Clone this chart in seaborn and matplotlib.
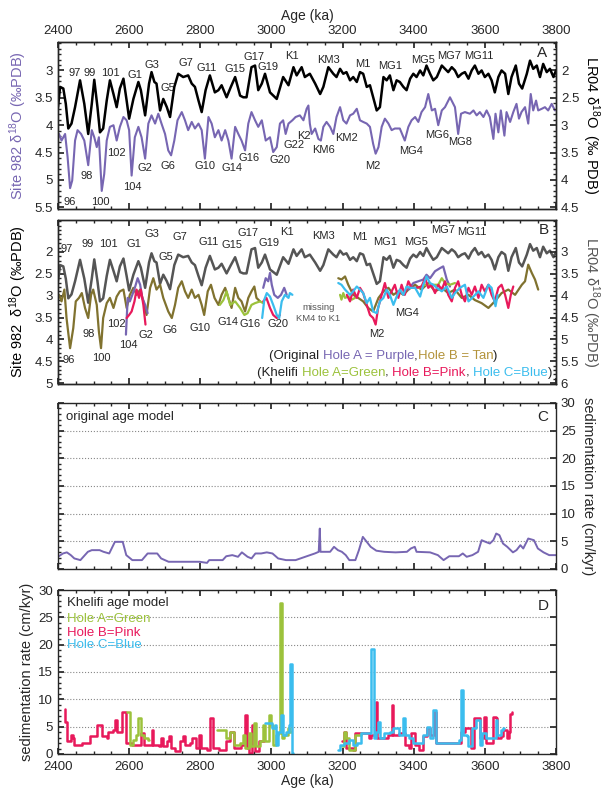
import numpy as np
import pandas as pd
import matplotlib
matplotlib.use("Agg")
import matplotlib.pyplot as plt
from matplotlib.ticker import MultipleLocator, FuncFormatter, FixedLocator
import seaborn as sns

# ---------------- data ----------------
lr04_age = [2400,2406,2415,2422,2429,2438,2448,2462,2474,2485,
            2495,2502,2511,2518,2527,2537,2546,2556,2565,2574,
            2584,2593,2600,2612,2626,2633,2645,2656,2663,2671,
            2677,2687,2696,2706,2715,2727,2738,2752,2766,2776,
            2785,2795,2804,2815,2827,2841,2851,2860,2874,2886,
            2898,2912,2921,2930,2944,2954,2963,2973,2982,2996,
            3015,3033,3048,3062,3071,3085,3094,3108,3123,3137,
            3146,3160,3174,3183,3193,3202,3211,3221,3230,3240,
            3249,3258,3268,3277,3286,3296,3305,3315,3324,3333,
            3343,3352,3361,3371,3380,3390,3399,3408,3418,3427,
            3436,3446,3455,3465,3479,3488,3497,3507,3516,3525,
            3535,3544,3554,3563,3572,3582,3591,3600,3610,3619,
            3628,3638,3647,3657,3666,3675,3687,3696,3705,3718,
            3727,3736,3746,3755,3764,3774,3783,3793,3800]
lr04_val = [2.67,2.30,2.33,2.61,3.06,2.97,2.67,2.18,2.61,3.16,
            2.61,2.17,2.67,3.13,3.06,2.55,2.18,2.43,2.67,2.33,
            2.15,2.55,2.88,2.52,2.21,2.36,2.82,2.24,2.03,2.21,
            2.24,2.73,2.52,2.67,2.85,2.30,2.06,2.12,2.09,2.24,
            2.30,2.55,2.76,2.36,2.09,2.40,2.36,2.27,2.49,2.30,
            2.12,2.46,2.49,2.49,1.94,1.91,2.36,2.24,2.06,2.40,
            2.52,2.12,2.27,1.94,2.09,1.94,2.12,2.06,2.24,2.43,
            2.30,1.94,2.06,2.12,1.97,2.06,2.03,2.18,2.12,2.21,
            2.03,2.06,2.30,2.27,2.49,2.73,2.67,2.12,2.18,2.09,
            2.36,2.18,2.21,2.30,2.36,2.15,2.06,2.12,2.00,2.09,
            1.91,2.06,2.18,2.12,1.91,1.97,2.03,1.94,2.00,2.12,
            2.06,2.03,2.15,2.00,1.91,2.06,2.00,2.12,2.06,2.18,
            2.40,2.12,2.00,2.06,2.43,2.12,1.91,2.24,2.33,2.06,
            1.82,1.97,1.91,2.12,1.88,2.03,1.97,2.12,2.00]

site982_age = [2400,2403,2410,2420,2427,2434,2440,2448,2455,2465,
               2474,2485,2495,2502,2509,2515,2523,2530,2537,2546,
               2556,2565,2574,2584,2593,2600,2607,2616,2626,2635,
               2645,2654,2663,2673,2682,2691,2701,2710,2718,2727,
               2736,2748,2757,2766,2776,2785,2795,2804,2813,2823,
               2832,2841,2851,2860,2870,2879,2888,2898,2907,2916,
               2926,2935,2944,2954,2963,2973,2984,2996,3005,3015,
               3024,3033,3040,3048,3059,3068,3080,3090,3099,3104,
               3108,3113,3123,3132,3139,3146,3155,3165,3174,3183,
               3193,3202,3211,3221,3230,3240,3249,3258,3268,3277,
               3286,3293,3301,3310,3319,3329,3338,3347,3361,3375,
               3385,3394,3404,3413,3422,3432,3441,3451,3460,3469,
               3479,3488,3502,3516,3525,3533,3544,3558,3568,3577,
               3586,3596,3605,3614,3624,3630,3638,3645,3655,3661,
               3671,3680,3689,3696,3703,3713,3722,3729,3736,3744,
               3750,3760,3769,3778,3788,3797]
site982_val = [4.22,4.16,4.28,4.16,4.58,5.15,5.01,4.28,4.09,4.16,
               4.28,4.73,4.09,4.22,4.40,4.22,5.20,4.89,4.28,4.03,
               4.00,4.28,4.03,3.85,3.91,4.09,4.92,4.22,4.03,4.22,
               4.61,3.97,3.82,3.97,3.79,3.97,4.16,4.46,4.55,4.28,
               3.91,3.76,3.91,4.09,3.94,4.06,3.97,4.09,4.61,3.85,
               3.97,4.22,4.09,4.28,4.09,4.28,4.61,4.03,4.16,4.28,
               4.46,3.97,3.76,3.91,4.03,3.91,4.28,4.22,4.49,4.40,
               3.97,3.91,4.16,3.97,3.91,3.85,3.82,3.91,3.70,3.64,
               3.97,4.16,4.06,4.25,4.28,4.03,3.94,4.03,4.16,3.85,
               3.67,3.91,3.97,3.82,3.79,3.70,3.91,3.94,3.97,4.03,
               4.34,4.52,4.40,4.03,3.88,3.97,4.09,4.06,4.06,4.28,
               4.03,3.91,3.85,3.94,3.76,3.67,3.43,3.73,3.70,4.00,
               3.73,3.67,3.49,3.67,4.16,3.79,3.76,3.79,3.73,3.82,
               3.76,3.85,3.73,3.85,4.25,3.79,4.13,3.73,4.19,3.76,
               3.94,3.76,3.61,3.88,3.76,3.67,3.97,3.43,3.73,3.55,
               3.73,3.70,3.67,3.73,3.61,3.73]

# Panel B, original Hole B (tan), two segments
tan1_age = [2400,2403,2410,2418,2424,2434,2443,2450,2459,2467,
            2476,2485,2493,2499,2509,2515,2521,2527,2537,2546,
            2556,2565,2574,2584,2593,2602,2612,2621,2631,2640,
            2649,2659,2668,2677,2687,2696,2710,2720,2729,2738,
            2748,2757,2766,2776,2785,2795,2804,2811,2821,2830,
            2840,2851,2860,2870,2879,2888,2898,2907,2916,2926,
            2935,2944,2952,2958,2968]
tan1_val = [3.05,2.98,3.13,2.86,3.51,4.20,3.74,3.13,3.05,2.94,
            3.28,3.51,2.98,2.86,3.21,3.82,4.20,3.51,3.17,3.05,
            3.28,3.02,2.90,2.86,3.28,2.98,2.82,2.98,2.86,3.13,
            3.44,2.82,2.60,2.86,2.75,3.05,3.36,3.51,3.21,2.82,
            2.67,2.90,3.05,2.86,3.05,2.98,3.21,3.44,2.90,2.75,
            3.05,3.21,2.98,2.82,3.05,3.28,2.82,3.05,3.13,3.36,
            3.05,2.90,2.79,3.05,3.13]
tan2_age = [3188,3197,3207,3216,3230,3244,3258,3272,3286,3301,
            3315,3329,3343,3357,3371,3385,3404,3422,3441,3460,
            3479,3497,3516,3535,3554,3572,3591,3610,3628,3647,
            3666,3685,3704,3713,3722,3732,3741,3750]
tan2_val = [2.60,2.63,2.56,2.75,2.98,3.05,3.13,3.28,3.36,3.05,
            2.90,2.82,2.98,2.90,2.98,2.86,2.75,2.86,2.71,2.90,
            2.82,2.94,2.86,3.05,2.98,3.10,3.17,3.28,3.13,2.94,
            2.86,2.98,2.75,2.67,2.29,2.48,2.63,2.86]

# Panel B, original Hole A (purple)
purB1_age = [2591,2596,2602,2609,2616,2624,2631,2637,2645,2652]
purB1_val = [3.89,3.05,3.13,2.98,2.82,2.60,2.75,3.05,3.21,3.40]
purB2_age = [2977,2984,2991,2996,3001,3008,3018,3027,3036,3043]
purB2_val = [2.82,2.60,2.67,2.48,2.75,2.98,3.05,2.98,2.82,2.98]
purB3_age = [3385,3399,3413,3427,3436,3446,3460,3474,3483,3493,3502]
purB3_val = [2.86,2.71,2.67,2.63,2.52,2.60,2.44,2.37,2.33,2.63,2.79]

# Panel B, Khelifi Hole A (green)
grnB1_age = [2855,2865,2874,2884,2898,2912,2924,2933,2944,2954,2968,2977]
grnB1_val = [3.21,3.10,2.90,3.21,3.13,3.28,3.44,3.40,3.21,3.17,3.13,3.17]
grnB2_age = [3193,3197,3202,3207,3216,3226,3235]
grnB2_val = [2.98,3.09,2.94,3.05,3.02,3.09,3.05]
grnB3_age = [3413,3432,3450,3469,3479,3488,3502,3516]
grnB3_val = [2.82,2.75,2.75,2.75,2.60,2.71,2.75,2.71]

# Panel B, Khelifi Hole B (pink)
pnkB1_age = [2593,2600,2607,2615,2621,2628,2633,2640,2646]
pnkB1_val = [3.51,3.44,3.36,3.13,2.86,3.05,2.86,3.21,3.66]
pnkB2_age = [2977,2986,2996,3005,3015,3024]
pnkB2_val = [3.13,3.05,3.28,3.44,3.51,3.44]
pnkB3_age = [3212,3221,3230,3240,3249,3258,3268,3277,3286,3293,
             3300,3310,3319,3329,3338,3347,3357,3366,3375,3385,
             3394,3408,3422,3432,3441,3450,3460,3469,3479,3488,
             3497,3507,3516,3525,3535,3544,3554,3563,3572,3582,
             3591,3600,3610,3619,3628,3638,3647,3657,3666,3673,
             3680]
pnkB3_val = [2.98,3.13,2.86,3.05,2.82,2.94,3.21,3.44,3.51,3.66,
             3.28,2.98,2.71,3.05,2.90,2.75,3.05,2.75,2.98,2.67,
             2.82,2.82,2.79,2.60,2.82,2.75,2.94,2.75,2.86,2.67,
             2.98,3.13,2.82,2.67,2.98,3.13,2.82,2.98,2.79,3.05,
             2.75,2.90,2.75,2.98,3.13,2.82,2.75,2.98,3.28,2.98,
             2.79]

# Panel B, Khelifi Hole C (blue)
bluB1_age = [2974,2980,2987,2996,3005,3015,3022,3029,3038,3048,3052,3059]
bluB1_val = [3.51,3.09,2.94,3.02,3.21,3.44,3.51,3.13,2.98,3.05,2.94,2.98]
bluB2_age = [3188,3197,3207,3221,3230,3240,3249,3258,3268,3277,
             3286,3296,3305,3315,3324,3333,3343,3352,3361,3371,
             3380,3390,3404,3418,3427,3436,3446,3455,3465,3479,
             3493,3507,3516,3530,3544,3554,3568,3582,3596,3610,
             3619,3630,3636]
bluB2_val = [2.71,2.75,2.86,2.98,2.90,2.79,2.86,2.94,3.17,3.05,
             3.36,3.40,3.13,3.05,2.86,2.98,3.21,3.02,2.86,2.98,
             2.79,2.82,2.82,3.02,2.75,2.56,2.71,2.75,2.82,2.90,
             2.79,3.05,2.94,2.82,2.75,3.13,3.02,2.90,3.05,2.75,
             2.82,3.24,2.98]

# Panel C, sedimentation rate, original age model
sedC_age = [2400,2414,2425,2436,2446,2463,2484,2495,2517,2528,
            2544,2560,2582,2592,2609,2636,2652,2679,2690,2711,
            2755,2798,2819,2825,2863,2873,2890,2906,2917,2933,
            2944,2955,2971,2987,3003,3019,3041,3068,3095,3122,
            3133,3136,3138,3142,3165,3176,3187,3198,3209,3219,
            3236,3246,3257,3268,3279,3295,3317,3349,3381,3392,
            3403,3408,3446,3468,3484,3500,3527,3538,3549,3565,
            3581,3591,3602,3614,3624,3632,3641,3651,3663,3679,
            3689,3700,3708,3722,3738,3749,3765,3781,3800]
sedC_val = [2.2,2.8,3.0,2.5,1.9,1.6,3.1,3.4,3.4,3.1,
            2.8,4.9,4.9,2.5,1.6,1.6,2.8,2.8,1.9,1.3,
            1.3,1.3,1.1,1.6,1.6,2.3,2.5,2.2,3.0,2.2,
            1.9,2.8,2.8,3.0,2.8,1.9,1.6,1.6,2.2,2.8,
            3.1,7.3,3.1,3.1,3.1,4.0,3.4,3.1,2.5,1.6,
            1.6,3.4,5.8,4.9,4.0,3.3,3.1,3.0,3.1,3.7,
            4.0,3.1,3.0,2.5,1.6,2.3,2.3,2.8,2.2,2.5,
            3.1,5.2,4.9,4.6,5.2,6.4,6.1,4.6,4.0,3.0,
            3.4,4.3,3.7,5.5,5.2,3.7,3.0,2.5,2.5]

# Panel D, sedimentation rate, Khelifi age model
pnkD1_age = [2419,2421,2425,2434,2436,2441,2446,2463,2468,2484,
             2490,2506,2511,2522,2525,2538,2542,2555,2560,2565,
             2579,2581,2590,2591,2609,2625,2634,2641,2657,2663,
             2668,2684,2690,2695,2706,2711,2717,2728,2738,2744,
             2752,2757,2771,2776,2787,2796,2803,2819,2828,2836,
             2852,2873,2884,2895,2915,2925,2932,2938,2946,2953,
             2965,2980]
pnkD1_val = [8.3,5.9,2.3,2.3,3.5,2.9,1.7,1.7,2.0,2.0,
             3.2,3.2,5.3,5.3,3.2,2.9,4.1,4.4,6.2,4.1,
             4.1,7.7,7.7,2.0,1.7,1.7,3.8,1.7,1.7,4.4,
             1.7,1.4,2.9,1.4,2.3,3.2,1.1,0.5,0.5,2.3,
             3.2,1.7,2.0,2.9,1.1,3.5,1.1,0.8,6.5,1.1,
             0.8,2.3,4.1,1.1,1.7,7.1,1.1,0.2,5.3,0.5,
             2.3,2.3]
pnkD2_age = [3198,3203,3209,3230,3236,3268,3273,3279,3293,3297,
             3317,3328,3338,3343,3360,3376,3387,3392,3403,3414,
             3425,3436,3446,3457,3462,3522,3532,3543,3560,3570,
             3586,3597,3602,3624,3630,3635,3646,3651,3662,3668,
             3671,3675]
pnkD2_val = [2.3,4.1,1.1,0.8,3.8,3.8,2.9,3.5,9.6,2.9,
             2.9,3.5,9.0,3.5,3.8,1.7,1.1,3.8,1.7,0.8,
             3.2,4.7,3.5,7.7,2.0,2.0,4.1,4.7,1.1,6.5,
             2.9,6.8,2.0,6.8,6.5,2.9,3.2,4.4,2.9,4.1,
             7.4,7.6]
grnD1_age = [2595,2603,2612,2619,2625,2634,2641,2652,2657]
grnD1_val = [7.7,1.7,2.6,3.5,6.5,3.5,2.9,2.6,2.6]
grnD2_age = [2846,2873,2884,2895,2911,2919,2927,2938,2944,2951,
             2957,2968,2976,2982,2992,2998,3005,3014,3019,3025,
             3029,3036,3046,3052,3056]
grnD2_val = [4.4,2.9,4.1,1.7,2.0,3.5,1.1,3.8,1.4,5.6,
             1.4,2.3,5.3,2.3,7.1,5.3,1.7,3.5,3.8,27.6,
             2.9,3.5,4.7,4.1,4.1]
grnD3_age = [3198,3203,3209,3219,3236,3252]
grnD3_val = [1.4,4.0,2.9,0.8,3.5,3.8]
bluD1_age = [2982,3003,3009,3014,3019,3027,3033,3041,3049,3052,3059,3061]
bluD1_val = [5.6,4.7,5.3,1.7,4.1,7.1,3.5,4.1,5.3,16.5,0.2,0.2]
bluD2_age = [3187,3192,3203,3219,3230,3241,3252,3280,3287,3295,
             3300,3306,3317,3333,3343,3360,3370,3376,3387,3397,
             3425,3436,3446,3455,3462,3527,3532,3538,3549,3554,
             3565,3575,3586,3592,3602,3630,3635,3646,3651,3655]
bluD2_val = [0.8,1.7,2.0,2.6,1.7,2.0,3.8,19.2,2.9,4.1,
             5.9,2.9,3.8,4.1,4.7,3.5,6.5,3.5,2.9,2.0,
             3.5,5.0,2.9,8.0,2.0,2.6,11.7,3.5,3.2,1.4,
             4.7,6.2,1.7,3.8,2.9,6.2,3.5,4.4,4.7,4.7]

age_ticks = [2400, 2600, 2800, 3000, 3200, 3400, 3600, 3800]
yA_left_ticks = [3, 3.5, 4, 4.5, 5, 5.5]
yA_right_ticks = [2, 2.5, 3, 3.5, 4, 4.5]
yB_left_ticks = [2, 2.5, 3, 3.5, 4, 4.5, 5]
yB_right_ticks = [3, 3.5, 4, 4.5, 5, 5.5, 6]
sed_ticks = [0, 5, 10, 15, 20, 25, 30]

# ---------------- styling ----------------
sns.set_theme(style="ticks")
plt.rcParams["font.family"] = ["Liberation Sans", "DejaVu Sans"]
plt.rcParams["mathtext.fontset"] = "custom"
plt.rcParams["mathtext.rm"] = "Liberation Sans"
plt.rcParams["mathtext.it"] = "Liberation Sans:italic"
plt.rcParams["mathtext.default"] = "regular"
plt.rcParams["axes.linewidth"] = 1.0

C_PURPLE = "#7766b2"
C_GRAY = "#555555"
C_TAN = "#80722f"
C_TAN_TXT = "#b3933a"
C_GREEN = "#9cc23c"
C_PINK = "#e8195b"
C_BLUE = "#3bbdee"


def segdf(*pairs):
    rows = []
    for k, (a, v) in enumerate(pairs):
        assert len(a) == len(v)
        rows.append(pd.DataFrame({"age": a, "val": v, "seg": k}))
    return pd.concat(rows, ignore_index=True)


def line(ax, df, color, lw, **kw):
    sns.lineplot(data=df, x="age", y="val", units="seg", estimator=None,
                 color=color, lw=lw, ax=ax, legend=False, sort=False, **kw)


gfmt = FuncFormatter(lambda v, p: "%g" % v)

fig = plt.figure(figsize=(6.04, 7.91), dpi=100)
L, W = 0.096, 0.8245
axA = fig.add_axes([L, 0.7358, W, 0.2111])
axB = fig.add_axes([L, 0.5145, W, 0.2073])
axC = fig.add_axes([L, 0.2807, W, 0.2099])
axD = fig.add_axes([L, 0.0468, W, 0.2073])


def style_x(ax):
    ax.set_xlim(2400, 3800)
    ax.set_xticks(age_ticks)
    ax.xaxis.set_minor_locator(MultipleLocator(50))
    ax.tick_params(axis="x", which="both", direction="in", top=True, bottom=True,
                   labelsize=9.5)
    ax.tick_params(axis="x", which="major", length=4)
    ax.tick_params(axis="x", which="minor", length=2)
    ax.set_xlabel("")


def style_y(ax, ticks, minor):
    ax.yaxis.set_major_locator(FixedLocator(ticks))
    ax.yaxis.set_minor_locator(MultipleLocator(minor))
    ax.yaxis.set_major_formatter(gfmt)
    ax.tick_params(axis="y", which="both", direction="in", labelsize=9.5)
    ax.tick_params(axis="y", which="major", length=4)
    ax.tick_params(axis="y", which="minor", length=2)
    ax.set_ylabel("")


LAB_FS = 8

# ---------------- Panel A ----------------
axA2 = axA.twinx()
line(axA, segdf((site982_age, site982_val)), C_PURPLE, 1.5)
line(axA2, segdf((lr04_age, lr04_val)), "black", 1.8)
style_x(axA)
axA.tick_params(axis="x", labeltop=True, labelbottom=False)
axA.xaxis.set_label_position("top")
axA.set_xlabel("Age (ka)", fontsize=10, labelpad=4)
axA.set_ylim(5.53, 2.48)
axA2.set_ylim(4.53, 1.48)
style_y(axA, yA_left_ticks, 0.1)
style_y(axA2, yA_right_ticks, 0.1)
axA.tick_params(axis="y", right=False)
axA2.tick_params(axis="y", left=False, right=True)
axA.set_ylabel("Site 982 δ$^{18}$O (‰PDB)", color=C_PURPLE, fontsize=10.5, labelpad=4)
axA2.set_ylabel("LR04 δ$^{18}$O  (‰ PDB)", color="black", fontsize=10.5,
                rotation=270, labelpad=16)
axA.text(0.982, 0.935, "A", transform=axA.transAxes, ha="right", va="center", fontsize=11)

labA = [("97", 2446, 3.04), ("99", 2490, 3.04), ("101", 2546, 3.04), ("G1", 2617, 3.08),
        ("G3", 2663, 2.90), ("G5", 2708, 3.32), ("G7", 2760, 2.87), ("G11", 2818, 2.95),
        ("G15", 2898, 2.97), ("G17", 2951, 2.76), ("G19", 2991, 2.94), ("K1", 3059, 2.73),
        ("KM3", 3160, 2.80), ("M1", 3258, 2.88), ("MG1", 3333, 2.91), ("MG5", 3427, 2.81),
        ("MG7", 3500, 2.73), ("MG11", 3584, 2.73),
        ("96", 2434, 5.40), ("98", 2482, 4.93), ("100", 2518, 5.40), ("102", 2565, 4.50),
        ("104", 2609, 5.13), ("G2", 2645, 4.78), ("G6", 2708, 4.75), ("G10", 2813, 4.75),
        ("G14", 2888, 4.79), ("G16", 2938, 4.60), ("G20", 3024, 4.63), ("G22", 3064, 4.37),
        ("K2", 3092, 4.19), ("KM6", 3146, 4.46), ("KM2", 3212, 4.23), ("M2", 3285, 4.75),
        ("MG4", 3392, 4.48), ("MG6", 3465, 4.17), ("MG8", 3530, 4.30)]
for s, x, y in labA:
    axA.text(x, y, s, ha="center", va="center", fontsize=LAB_FS)

# ---------------- Panel B ----------------
axB2 = axB.twinx()
line(axB, segdf((lr04_age, lr04_val)), C_GRAY, 1.8)
line(axB, segdf((tan1_age, tan1_val), (tan2_age, tan2_val)), C_TAN, 1.6)
line(axB, segdf((purB1_age, purB1_val), (purB2_age, purB2_val), (purB3_age, purB3_val)),
     C_PURPLE, 1.6)
line(axB, segdf((grnB1_age, grnB1_val), (grnB2_age, grnB2_val), (grnB3_age, grnB3_val)),
     C_GREEN, 1.6)
line(axB, segdf((pnkB1_age, pnkB1_val), (pnkB2_age, pnkB2_val), (pnkB3_age, pnkB3_val)),
     C_PINK, 1.6)
line(axB, segdf((bluB1_age, bluB1_val), (bluB2_age, bluB2_val)), C_BLUE, 1.6)
style_x(axB)
axB.tick_params(axis="x", labelbottom=False)
axB.set_ylim(5.02, 1.27)
axB2.set_ylim(6.02, 2.27)
style_y(axB, yB_left_ticks, 0.1)
style_y(axB2, yB_right_ticks, 0.1)
axB.tick_params(axis="y", right=False)
axB2.tick_params(axis="y", left=False, right=True)
axB.set_ylabel("Site 982  δ$^{18}$O (‰PDB)", color="black", fontsize=10.5, labelpad=4)
axB2.set_ylabel("LR04 δ$^{18}$O (‰PDB)", color=C_GRAY, fontsize=10.5,
                rotation=270, labelpad=16)
axB.text(0.985, 0.94, "B", transform=axB.transAxes, ha="right", va="center", fontsize=11)

labB = [("97", 2424, 1.93), ("99", 2483, 1.82), ("101", 2542, 1.82), ("G1", 2614, 1.82),
        ("G3", 2663, 1.60), ("G5", 2704, 2.12), ("G7", 2743, 1.66), ("G11", 2824, 1.77),
        ("G15", 2890, 1.85), ("G17", 2935, 1.56), ("G19", 2994, 1.79), ("K1", 3045, 1.54),
        ("KM3", 3146, 1.64), ("M1", 3249, 1.66), ("MG1", 3319, 1.77), ("MG5", 3408, 1.78),
        ("MG7", 3483, 1.50), ("MG11", 3563, 1.54),
        ("96", 2429, 4.47), ("98", 2485, 3.88), ("100", 2523, 4.43), ("102", 2565, 3.65),
        ("104", 2598, 4.12), ("G2", 2647, 3.89), ("G6", 2715, 3.78), ("G10", 2799, 3.73),
        ("G14", 2877, 3.59), ("G16", 2940, 3.65), ("G20", 3018, 3.65), ("M2", 3296, 3.88),
        ("MG4", 3380, 3.40)]
for s, x, y in labB:
    axB.text(x, y, s, ha="center", va="center", fontsize=LAB_FS)
axB.text(3132, 3.40, "missing\nKM4 to K1", ha="center", va="center", fontsize=6.8,
         color=C_GRAY, linespacing=1.3)


def rainbow(ax, x, y, pieces, fs=9.5):
    t = ax.text(x, y, pieces[0][0], color=pieces[0][1], fontsize=fs, ha="left", va="bottom")
    for s, c in pieces[1:]:
        t = ax.annotate(s, xy=(1, 0), xycoords=t, color=c, fontsize=fs,
                        ha="left", va="bottom")


rainbow(axB, 2993, 4.52, [("(Original ", "#222222"), ("Hole A = Purple", C_PURPLE),
                          (",", "#222222"), ("Hole B = Tan", C_TAN_TXT), (")", "#222222")])
rainbow(axB, 2960, 4.90, [("(Khelifi ", "#222222"), ("Hole A=Green", C_GREEN),
                          (", ", "#222222"), ("Hole B=Pink", C_PINK), (", ", "#222222"),
                          ("Hole C=Blue", C_BLUE), (")", "#222222")])

# ---------------- Panel C ----------------
line(axC, segdf((sedC_age, sedC_val)), C_PURPLE, 1.4)
style_x(axC)
axC.tick_params(axis="x", labelbottom=False)
axC.set_ylim(0, 30)
style_y(axC, sed_ticks, 1)
axC.tick_params(axis="y", left=True, right=True, labelleft=False, labelright=True)
axC.yaxis.set_label_position("right")
axC.set_ylabel("sedimentation rate (cm/kyr)", fontsize=10.5, rotation=270, labelpad=14)
axC.grid(axis="y", which="major", linestyle=":", color="#888888", lw=0.8)
axC.text(0.016, 0.915, "original age model", transform=axC.transAxes, ha="left",
         va="center", fontsize=9.5)
axC.text(0.984, 0.915, "C", transform=axC.transAxes, ha="right", va="center", fontsize=11)

# ---------------- Panel D ----------------
line(axD, segdf((pnkD1_age, pnkD1_val), (pnkD2_age, pnkD2_val)), C_PINK, 1.8,
     drawstyle="steps-post")
line(axD, segdf((grnD1_age, grnD1_val), (grnD2_age, grnD2_val), (grnD3_age, grnD3_val)),
     C_GREEN, 1.8, drawstyle="steps-post")
line(axD, segdf((bluD1_age, bluD1_val), (bluD2_age, bluD2_val)), C_BLUE, 1.8,
     drawstyle="steps-post")
style_x(axD)
axD.tick_params(axis="x", which="major", pad=5)
axD.set_ylim(0, 30)
style_y(axD, sed_ticks, 1)
axD.tick_params(axis="y", left=True, right=True, labelleft=True, labelright=False)
axD.set_ylabel("sedimentation rate (cm/kyr)", fontsize=10.5, labelpad=3)
axD.set_xlabel("Age (ka)", fontsize=10, labelpad=1)
axD.grid(axis="y", which="major", linestyle=":", color="#888888", lw=0.8)
axD.text(0.018, 0.92, "Khelifi age model", transform=axD.transAxes, ha="left",
         va="center", fontsize=9.5)
axD.text(0.018, 0.825, "Hole A=Green", transform=axD.transAxes, ha="left", va="center",
         fontsize=9.5, color=C_GREEN)
axD.text(0.018, 0.74, "Hole B=Pink", transform=axD.transAxes, ha="left", va="center",
         fontsize=9.5, color=C_PINK)
axD.text(0.018, 0.665, "Hole C=Blue", transform=axD.transAxes, ha="left", va="center",
         fontsize=9.5, color=C_BLUE)
axD.text(0.985, 0.9, "D", transform=axD.transAxes, ha="right", va="center", fontsize=11)

fig.savefig("out.png", dpi=100)
